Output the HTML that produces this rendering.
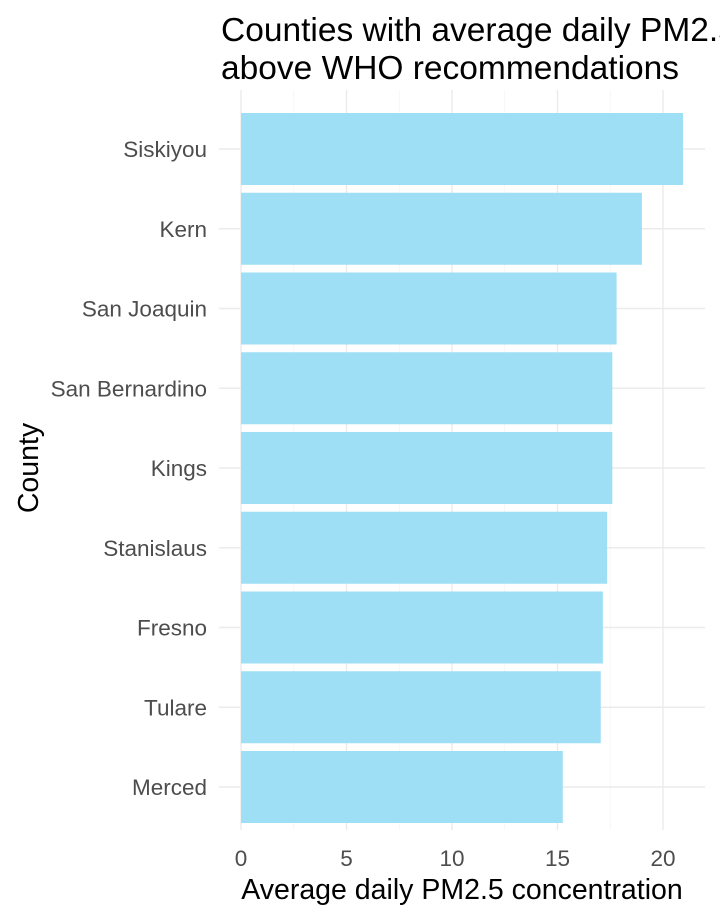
<!DOCTYPE html>
<html><head><meta charset="utf-8"><style>
body{margin:0;background:#fff;}
svg{display:block;font-family:"Liberation Sans",Arial,sans-serif;}
</style></head><body>
<svg id="chart" width="720" height="921" viewBox="0 0 720 921">
<g id="grid"></g>
<g id="bars"></g>
<g id="ylabels"></g>
<g id="xlabels"></g>
<text x="221" y="41" font-size="33.5" fill="#000">Counties with average daily PM2.5</text>
<text x="221" y="79" font-size="33.5" fill="#000">above WHO recommendations</text>
<text x="462" y="899" font-size="28.5" text-anchor="middle" fill="#000">Average daily PM2.5 concentration</text>
<text transform="translate(38,468) rotate(-90)" font-size="28.5" text-anchor="middle" fill="#000">County</text>
</svg>
<script>
const counties=["Siskiyou","Kern","San Joaquin","San Bernardino","Kings","Stanislaus","Fresno","Tulare","Merced"];
const values=[20.95,19.0,17.8,17.6,17.6,17.35,17.15,17.05,15.25];
const xTicks=[0,5,10,15,20];
const NS="http://www.w3.org/2000/svg";
const x0=241, pxPer=21.1, panelL=219, panelR=705, panelT=90, panelB=830;
const X=v=>x0+v*pxPer;
const rowH=79.75;
const Y=i=>149+i*rowH;
function mk(t,a,p){const e=document.createElementNS(NS,t);for(const k in a)e.setAttribute(k,a[k]);p.appendChild(e);return e;}
const grid=document.getElementById('grid');
for(let v=-2.5;v<=22.5;v+=2.5){const x=X(v);if(x<panelL||x>panelR)continue;
 const major=v%5===0;
 const l=mk('line',{x1:x,x2:x,y1:panelT,y2:panelB,stroke:major?'#ebebeb':'#f3f3f3','stroke-width':major?1.4:0.8},grid);
 
 }
counties.forEach((c,i)=>{const l=mk('line',{x1:panelL,x2:panelR,y1:Y(i),y2:Y(i),stroke:'#ebebeb','stroke-width':1.4},grid);
 
 });
const bars=document.getElementById('bars'),yl=document.getElementById('ylabels'),xl=document.getElementById('xlabels');
const bh=72;
counties.forEach((c,i)=>{
 const r=mk('rect',{x:X(0),y:Y(i)-bh/2,width:X(values[i])-X(0),height:bh,fill:'#9edff6'},bars);
 
 
 const t=mk('text',{x:207,y:Y(i)+8,'font-size':22.5,'text-anchor':'end',fill:'#4d4d4d'},yl);t.textContent=c;
 
 
});
xTicks.forEach(v=>{const t=mk('text',{x:X(v),y:866,'font-size':22.5,'text-anchor':'middle',fill:'#4d4d4d'},xl);t.textContent=v;
 
 });
</script>
</body></html>
